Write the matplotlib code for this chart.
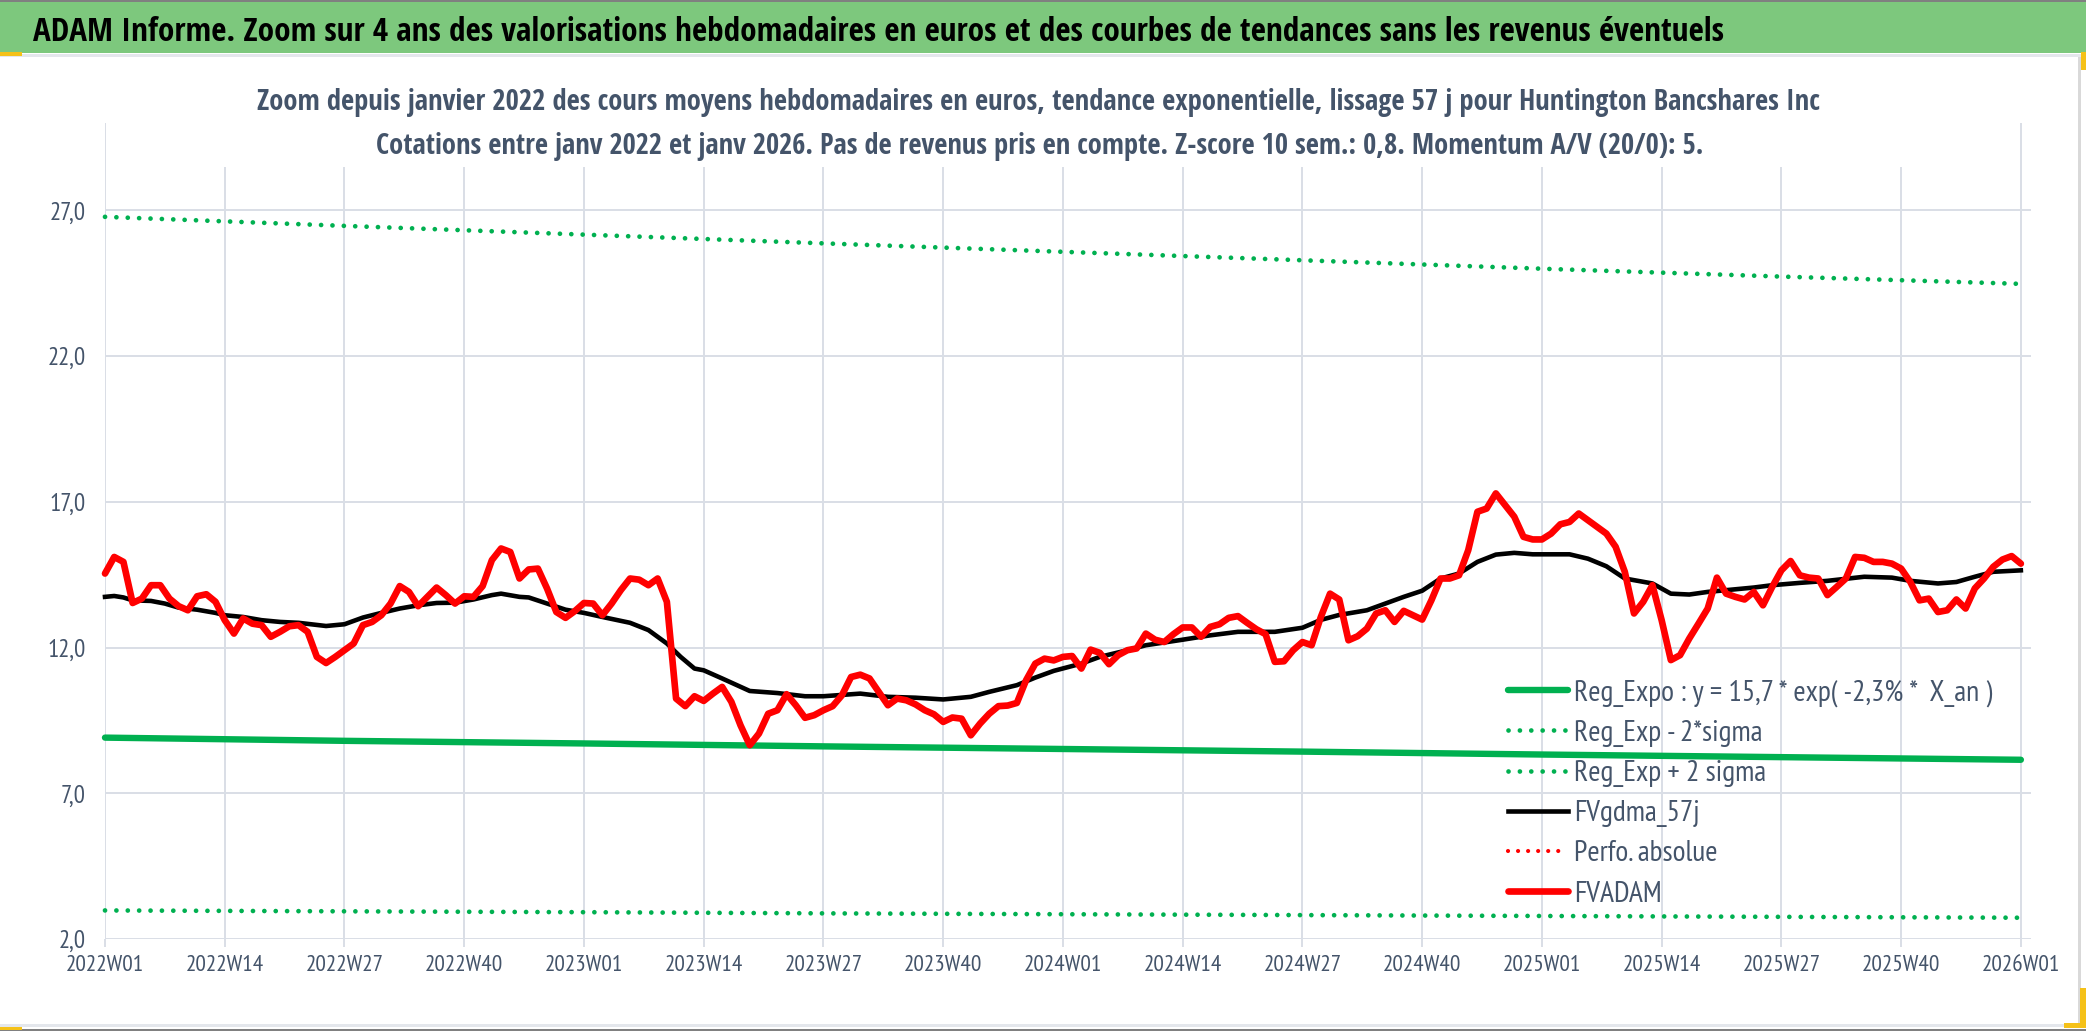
import matplotlib as mpl
mpl.use('Agg')
import numpy as np
import matplotlib.pyplot as plt
from matplotlib import font_manager
from matplotlib.patches import Rectangle

# --- data ---
title_bar = "ADAM Informe. Zoom sur 4 ans des valorisations hebdomadaires en euros et des courbes de tendances sans les revenus éventuels"
subtitle_1 = "Zoom depuis janvier 2022 des cours moyens hebdomadaires en euros, tendance exponentielle, lissage 57 j pour Huntington Bancshares Inc"
subtitle_2 = "Cotations entre janv 2022 et janv 2026. Pas de revenus pris en compte. Z-score 10 sem.: 0,8. Momentum A/V (20/0): 5."

xtick_labels = ['2022W01', '2022W14', '2022W27', '2022W40',
                '2023W01', '2023W14', '2023W27', '2023W40',
                '2024W01', '2024W14', '2024W27', '2024W40',
                '2025W01', '2025W14', '2025W27', '2025W40', '2026W01']
yticks = [2, 7, 12, 17, 22, 27]
ytick_labels = ['2,0', '7,0', '12,0', '17,0', '22,0', '27,0']

# FVADAM weekly values (week 0 = 2022W01)
fvadam = [14.54, 15.11, 14.94, 13.53, 13.68, 14.14, 14.14, 13.68, 13.42, 13.28,
          13.76, 13.83, 13.57, 12.94, 12.48, 13.00, 12.82, 12.77, 12.37, 12.54,
          12.73, 12.77, 12.54, 11.68, 11.47, 11.68, 11.91, 12.14, 12.77, 12.88,
          13.11, 13.51, 14.11, 13.91, 13.42, 13.74, 14.06, 13.80, 13.51, 13.76,
          13.74, 14.11, 15.00, 15.40, 15.28, 14.37, 14.68, 14.71, 14.02, 13.22,
          13.02, 13.25, 13.53, 13.51, 13.11, 13.51, 13.97, 14.37, 14.33, 14.14,
          14.37, 13.57, 10.25, 9.99, 10.33,
          10.17, 10.42, 10.65, 10.14, 9.33, 8.65, 9.05, 9.73, 9.85, 10.40,
          10.02, 9.59, 9.68, 9.85, 9.99, 10.36, 10.99, 11.07, 10.94, 10.48,
          10.02, 10.25, 10.19, 10.05, 9.85, 9.71, 9.45, 9.60, 9.56, 8.99,
          9.39, 9.73, 9.99, 10.01, 10.10, 10.88, 11.45, 11.62, 11.56, 11.68,
          11.71, 11.28, 11.93, 11.82, 11.43, 11.74, 11.91, 11.97, 12.48, 12.27,
          12.19, 12.46, 12.69, 12.69, 12.37, 12.71, 12.80, 13.02, 13.08, 12.85,
          12.63, 12.46, 11.51, 11.53, 11.91,
          12.19, 12.08, 13.05, 13.85, 13.65, 12.25, 12.39, 12.65, 13.17, 13.28,
          12.88, 13.26, 13.11, 12.96, 13.62, 14.37, 14.37, 14.48, 15.34, 16.66,
          16.77, 17.29, 16.89, 16.49, 15.80, 15.71, 15.71, 15.91, 16.23, 16.31,
          16.60, 16.37, 16.14, 15.91, 15.46, 14.60, 13.17, 13.57, 14.14, 12.94,
          11.57, 11.74, 12.31, 12.82, 13.34, 14.40, 13.85, 13.74, 13.65, 13.91,
          13.45, 14.08, 14.65, 14.97, 14.48, 14.40, 14.37, 13.80, 14.08, 14.37,
          15.11, 15.08, 14.94, 14.94, 14.88, 14.71, 14.25, 13.62, 13.68, 13.22,
          13.28, 13.65, 13.34, 14.03, 14.37, 14.77, 15.02, 15.14, 14.88]

# FVgdma_57j (smoothed), read at these weeks
gdma_weeks = [0, 1, 2, 3, 5, 6.5, 8, 10, 12, 13, 15, 17, 19, 21, 24, 26, 28, 30, 32, 34,
              36, 38, 40, 42, 43, 45, 46, 48, 50, 52, 54, 57, 59, 61, 62.5, 64, 65, 67, 70, 73,
              76, 78, 82, 85, 88, 91, 94, 96, 99, 101, 103, 106, 108, 111, 113, 117, 120, 123, 127, 130,
              132, 134, 137, 139, 141, 143, 145, 147, 149, 151, 153, 155, 159, 161, 163, 165, 168, 170, 172, 174,
              176, 179, 181, 184, 187, 191, 194, 196, 199, 201, 203, 205, 208]
gdma_vals = [13.74, 13.77, 13.72, 13.62, 13.60, 13.51, 13.37, 13.30, 13.19, 13.11,
             13.05, 12.94, 12.88, 12.85, 12.74, 12.80, 13.03, 13.19, 13.34, 13.45,
             13.53, 13.54, 13.65, 13.80, 13.85, 13.74, 13.72, 13.51, 13.30, 13.19,
             13.05, 12.85, 12.60, 12.14, 11.68, 11.28, 11.22, 10.94, 10.51, 10.44,
             10.33, 10.33, 10.42, 10.31, 10.28, 10.22, 10.31, 10.48, 10.71, 10.97,
             11.20, 11.45, 11.68, 11.91, 12.08, 12.27, 12.42, 12.54, 12.54, 12.68,
             12.95, 13.12, 13.28, 13.51, 13.74, 13.95, 14.37, 14.54, 14.94, 15.19,
             15.25, 15.20, 15.20, 15.05, 14.79, 14.37, 14.20, 13.85, 13.82, 13.91,
             13.97, 14.06, 14.14, 14.22, 14.29, 14.43, 14.40, 14.29, 14.20, 14.25,
             14.43, 14.60, 14.65]

# exponential regression and +/- 2 sigma bands, read at these weeks
reg_weeks = [0, 26, 52, 78, 104, 130, 156, 182, 208]
reg_expo = [8.91, 8.80, 8.71, 8.61, 8.52, 8.43, 8.33, 8.24, 8.15]
reg_plus2 = [26.78, 26.47, 26.17, 25.87, 25.58, 25.29, 25.00, 24.73, 24.48]
reg_minus2 = [2.98, 2.95, 2.92, 2.88, 2.85, 2.82, 2.79, 2.76, 2.73]

labels = ['Reg_Expo : y = 15,7 * exp( -2,3% *  X_an )', 'Reg_Exp - 2*sigma', 'Reg_Exp + 2 sigma',
          'FVgdma_57j', 'Perfo. absolue', 'FVADAM']

# --- fonts: condensed Calibri-like faces, with fallbacks ---
W, H = 2086, 1031


def weights_of(name):
    out = set()
    for f in font_manager.fontManager.ttflist:
        if f.name == name:
            w = f.weight
            out.add(font_manager.weight_dict.get(w, 400) if isinstance(w, str) else int(w))
    return out


FALLBACK = ['Carlito', 'Lato', 'DejaVu Sans']
BOLD_FAM = ['Open Sans Condensed'] + FALLBACK
reg_cands = [n for n in ('PT Sans Narrow', 'Fira Sans Condensed', 'Roboto Condensed')
             if any(380 <= w <= 520 for w in weights_of(n))]
REG_FAM = reg_cands[:1] + FALLBACK
plt.rcParams['font.family'] = REG_FAM

TXT = '#44546A'
GRID = '#d9dee6'
GREEN = '#00B050'
DOTS = (0, (0.01, 2.4))


def fx(px):
    return px / W


def fy(py):
    return 1 - py / H


fig = plt.figure(figsize=(W / 100, H / 100), dpi=100)
r = fig.canvas.get_renderer()


def size_for(s, target, weight='normal', family=None):
    # font size (pt) giving string s a width of target pixels
    t = fig.text(0, 0, s, fontsize=20, weight=weight, family=family or REG_FAM)
    bb = t.get_window_extent(r)
    t.remove()
    return 20 * target / bb.width


ax = fig.add_axes([fx(105), fy(939), fx(2031) - fx(105), (939 - 123) / H])

x = np.arange(len(fvadam))
ax.plot(reg_weeks, reg_expo, color=GREEN, lw=4.6, solid_capstyle='round',
        label=labels[0], clip_on=False, zorder=3)
ax.plot(reg_weeks, reg_minus2, color=GREEN, lw=3.4, ls=DOTS, dash_capstyle='round',
        label=labels[1], clip_on=False, zorder=3)
ax.plot(reg_weeks, reg_plus2, color=GREEN, lw=3.4, ls=DOTS, dash_capstyle='round',
        label=labels[2], clip_on=False, zorder=3)
ax.plot(gdma_weeks, gdma_vals, color='black', lw=3.3, solid_joinstyle='round',
        label=labels[3], clip_on=False, zorder=4)
ax.plot([], [], color='#FF0000', lw=3.0, ls=DOTS, dash_capstyle='round', label=labels[4])
ax.plot(x, fvadam, color='#FF0000', lw=4.8, solid_joinstyle='round', solid_capstyle='round',
        label=labels[5], clip_on=False, zorder=5)

xfs = size_for('2025W01', 78)
yfs = size_for('27,0', 36)
ax.set_xlim(0, 209.1)
ax.set_ylim(2, 30)
ax.set_xticks(np.arange(0, 209, 13))
ax.set_xticklabels(xtick_labels)
ax.set_yticks(yticks)
ax.set_yticklabels(ytick_labels)
ax.grid(True, color=GRID, lw=1.4)
ax.set_axisbelow(True)
for s in ax.spines.values():
    s.set_visible(False)
ax.tick_params(axis='x', length=5.8, width=1.4, color=GRID, pad=6, labelsize=xfs, labelcolor=TXT)
ax.tick_params(axis='y', length=0, pad=13.7, labelsize=yfs, labelcolor=TXT)

lfs = size_for(labels[0], 418)
lpx = lfs * 100 / 72


def make_legend(spacing, top):
    lg = ax.legend(loc='upper left', bbox_to_anchor=(fx(1508), fy(top)),
                   bbox_transform=fig.transFigure, frameon=False, fontsize=lfs,
                   handlelength=60 / lpx, handletextpad=6 / lpx,
                   labelspacing=spacing, borderpad=0, borderaxespad=0)
    for t in lg.get_texts():
        t.set_color(TXT)
    return lg


# two passes so the rows land ~40 px apart with the first centred at y=693
spacing, top = 0.4, 678
leg = make_legend(spacing, top)
fig.canvas.draw()
ys = [(t.get_window_extent(r).y0 + t.get_window_extent(r).y1) / 2 for t in leg.get_texts()]
pitch = (ys[0] - ys[-1]) / 5
spacing += (40.2 - pitch) / lpx
top += (693 - (H - ys[0]))
leg.remove()
leg = make_legend(spacing, top)

# frame decorations: green title band, borders, white box behind the subtitle
fig.add_artist(Rectangle((0, fy(53)), 1, 53 / H, transform=fig.transFigure,
                         facecolor='#7dc87d', edgecolor='none', zorder=1))
fig.add_artist(Rectangle((0, fy(57)), 1, 3 / H, transform=fig.transFigure,
                         facecolor='#e4e7ec', edgecolor='none', zorder=1))
fig.add_artist(Rectangle((fx(115), fy(167)), fx(2010) - fx(115), (167 - 58) / H, transform=fig.transFigure,
                         facecolor='white', edgecolor='none', zorder=1))
fig.add_artist(Rectangle((0, fy(2)), 1, 2 / H, transform=fig.transFigure,
                         facecolor='#808080', edgecolor='none', zorder=1))
fig.add_artist(Rectangle((0, fy(1031)), 1, 2 / H, transform=fig.transFigure,
                         facecolor='#808080', edgecolor='none', zorder=1))
fig.add_artist(Rectangle((0, fy(1027)), 1, 3 / H, transform=fig.transFigure,
                         facecolor='#e4e7ec', edgecolor='none', zorder=1))
fig.add_artist(Rectangle((fx(2078), fy(1027)), 3 / W, (1027 - 57) / H, transform=fig.transFigure,
                         facecolor='#d9d9d9', edgecolor='none', zorder=1))
for (x0, y0, x1, y1) in [(0, 52, 22, 56), (2081, 52, 2086, 70), (0, 1027, 22, 1030),
                         (2080, 988, 2086, 1028), (2064, 1023, 2086, 1028)]:
    fig.add_artist(Rectangle((fx(x0), fy(y1)), (x1 - x0) / W, (y1 - y0) / H, transform=fig.transFigure,
                             facecolor='#f5c118', edgecolor='none', zorder=2))

fs0 = size_for(title_bar, 1695, 'bold', BOLD_FAM)
fs1 = size_for(subtitle_1, 1559, 'bold', BOLD_FAM)
fs2 = size_for(subtitle_2, 1329, 'bold', BOLD_FAM)
fig.text(fx(33), fy(41), title_bar, ha='left', va='baseline', fontsize=fs0,
         weight='bold', color='black', family=BOLD_FAM)
fig.text(fx(1038), fy(110), subtitle_1, ha='center', va='baseline', fontsize=fs1,
         weight='bold', color=TXT, family=BOLD_FAM)
fig.text(fx(1040), fy(154), subtitle_2, ha='center', va='baseline', fontsize=fs2,
         weight='bold', color=TXT, family=BOLD_FAM)

fig.savefig('out.png', dpi=100)
